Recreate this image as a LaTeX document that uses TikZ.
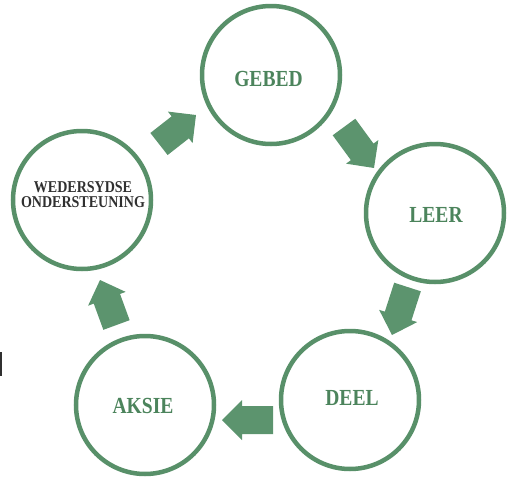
\documentclass[tikz,border=0pt]{standalone}
\usepackage{fontspec}
\usetikzlibrary{calc}
\newfontfamily\lblfont[FakeStretch=0.85]{Liberation Serif}
\definecolor{ringgreen}{RGB}{88,144,105}
\definecolor{arrowgreen}{RGB}{92,148,110}
\definecolor{textgreen}{RGB}{76,132,92}
\definecolor{textdark}{RGB}{48,48,48}
\tikzset{
  ring/.style={circle, draw=ringgreen, line width=4.5pt, minimum size=138pt, inner sep=0pt},
  biglabel/.style={text=textgreen, font=\lblfont\bfseries\fontsize{23}{23}\selectfont, inner sep=0pt},
  smalllabel/.style={text=textdark, align=center, font=\lblfont\bfseries\fontsize{16.5}{15}\selectfont, inner sep=0pt}
}
\newcommand\blockarrow[2]{%
  \fill[arrowgreen] let \p1=(#1), \p2=(#2),
    \n1={atan2(\y2-\y1,\x2-\x1)}, \n2={veclen(\x2-\x1,\y2-\y1)} in
    [shift={(\p1)}, rotate=\n1]
    (0pt,-14pt) -- (\n2-20pt,-14pt) -- (\n2-20pt,-20pt) -- (\n2,0pt)
    -- (\n2-20pt,20pt) -- (\n2-20pt,14pt) -- (0pt,14pt) -- cycle;}
\begin{document}
\begin{tikzpicture}[x=1pt,y=-1pt]
\useasboundingbox (0,0) rectangle (515,480);
% circles
\node[ring] (gebed) at (271,75) {};
\node[ring] (leer)  at (435,213) {};
\node[ring] (deel)  at (350,400) {};
\node[ring] (aksie) at (145,405) {};
\node[ring] (weder) at (82,200) {};
% labels
\node[biglabel] (gebedtxt) at (268.5,78.5) {GEBED};
\node[biglabel] (leertxt)  at (436,214.5) {LEER};
\node[biglabel] (deeltxt)  at (352,397.5) {DEEL};
\node[biglabel] (aksietxt) at (143,405.5) {AKSIE};
\node[smalllabel] (wedertxt) at (83,195) {WEDERSYDSE\\ONDERSTEUNING};
% arrow end points
\coordinate (a1t) at (159,144);   \coordinate (a1h) at (196,115);
\coordinate (a2t) at (344,127);   \coordinate (a2h) at (374,168);
\coordinate (a3t) at (407.5,287); \coordinate (a3h) at (392,335);
\coordinate (a4t) at (273,420);   \coordinate (a4h) at (222,420);
\coordinate (a5t) at (116.5,325); \coordinate (a5h) at (100,280);
\blockarrow{a1t}{a1h}
\blockarrow{a2t}{a2h}
\blockarrow{a3t}{a3h}
\blockarrow{a4t}{a4h}
\blockarrow{a5t}{a5h}
% edge mark
\draw[textdark, line width=1.5pt] (0.75,352) -- (0.75,376);
\end{tikzpicture}
\end{document}
